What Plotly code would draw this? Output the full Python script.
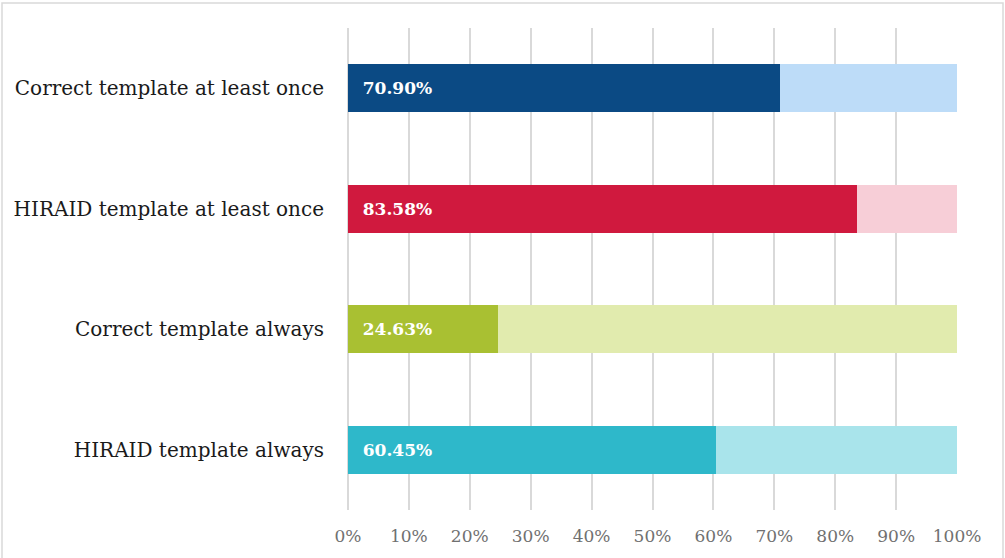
import plotly.graph_objects as go

categories = ["Correct template at least once", "HIRAID template at least once",
              "Correct template always", "HIRAID template always"]
values = [70.90, 83.58, 24.63, 60.45]
dark_colors = ["#0B4A84", "#D0193E", "#A9C032", "#2EB8CA"]
light_colors = ["#BDDCF8", "#F7CED7", "#E1EBAE", "#A9E4EB"]
tick_vals = [0, 10, 20, 30, 40, 50, 60, 70, 80, 90, 100]
tick_text = [f"{v}%" for v in tick_vals]

remainder = [100 - v for v in values]

fig = go.Figure()
fig.add_trace(go.Bar(
    y=categories, x=values, orientation="h",
    marker=dict(color=dark_colors, line=dict(width=0)),
    text=[f"\u00a0\u00a0{v:.2f}%" for v in values],
    textposition="inside", insidetextanchor="start",
    textfont=dict(family="DejaVu Serif", size=17, color="white"),
    texttemplate="<b>%{text}</b>",
    hoverinfo="skip",
))
fig.add_trace(go.Bar(
    y=categories, x=remainder, orientation="h",
    marker=dict(color=light_colors, line=dict(width=0)),
    hoverinfo="skip",
))

fig.update_layout(
    barmode="stack",
    bargap=0.603,
    width=1005, height=558,
    margin=dict(l=347, r=47, t=28, b=46),
    paper_bgcolor="white", plot_bgcolor="white",
    showlegend=False,
    font=dict(family="DejaVu Serif"),
    xaxis=dict(range=[-0.15, 100.15], tickvals=tick_vals, ticktext=tick_text,
               showgrid=True, gridcolor="#D9D9D9", gridwidth=1.5,
               zeroline=True, zerolinecolor="#D9D9D9", zerolinewidth=2,
               showline=False, ticks="",
               ticklabelstandoff=14,
               tickfont=dict(family="DejaVu Serif", size=17, color="#707070")),
    yaxis=dict(categoryorder="array", categoryarray=categories[::-1],
               showgrid=False, zeroline=False, showline=False,
               ticks="outside", ticklen=18, tickcolor="rgba(0,0,0,0)",
               tickfont=dict(family="DejaVu Serif", size=20, color="#1A1A1A")),
    shapes=[dict(type="rect", xref="paper", yref="paper",
                 x0=(2 - 347) / 611, x1=(1003 - 347) / 611,
                 y0=-0.2, y1=(558 - 3 - 46) / 484,
                 line=dict(color="#D9D9D9", width=1.5), fillcolor="rgba(0,0,0,0)",
                 layer="below")],
)

fig.write_html("out.html", config={"displayModeBar": False},
               post_script="document.body.style.margin='0';")
